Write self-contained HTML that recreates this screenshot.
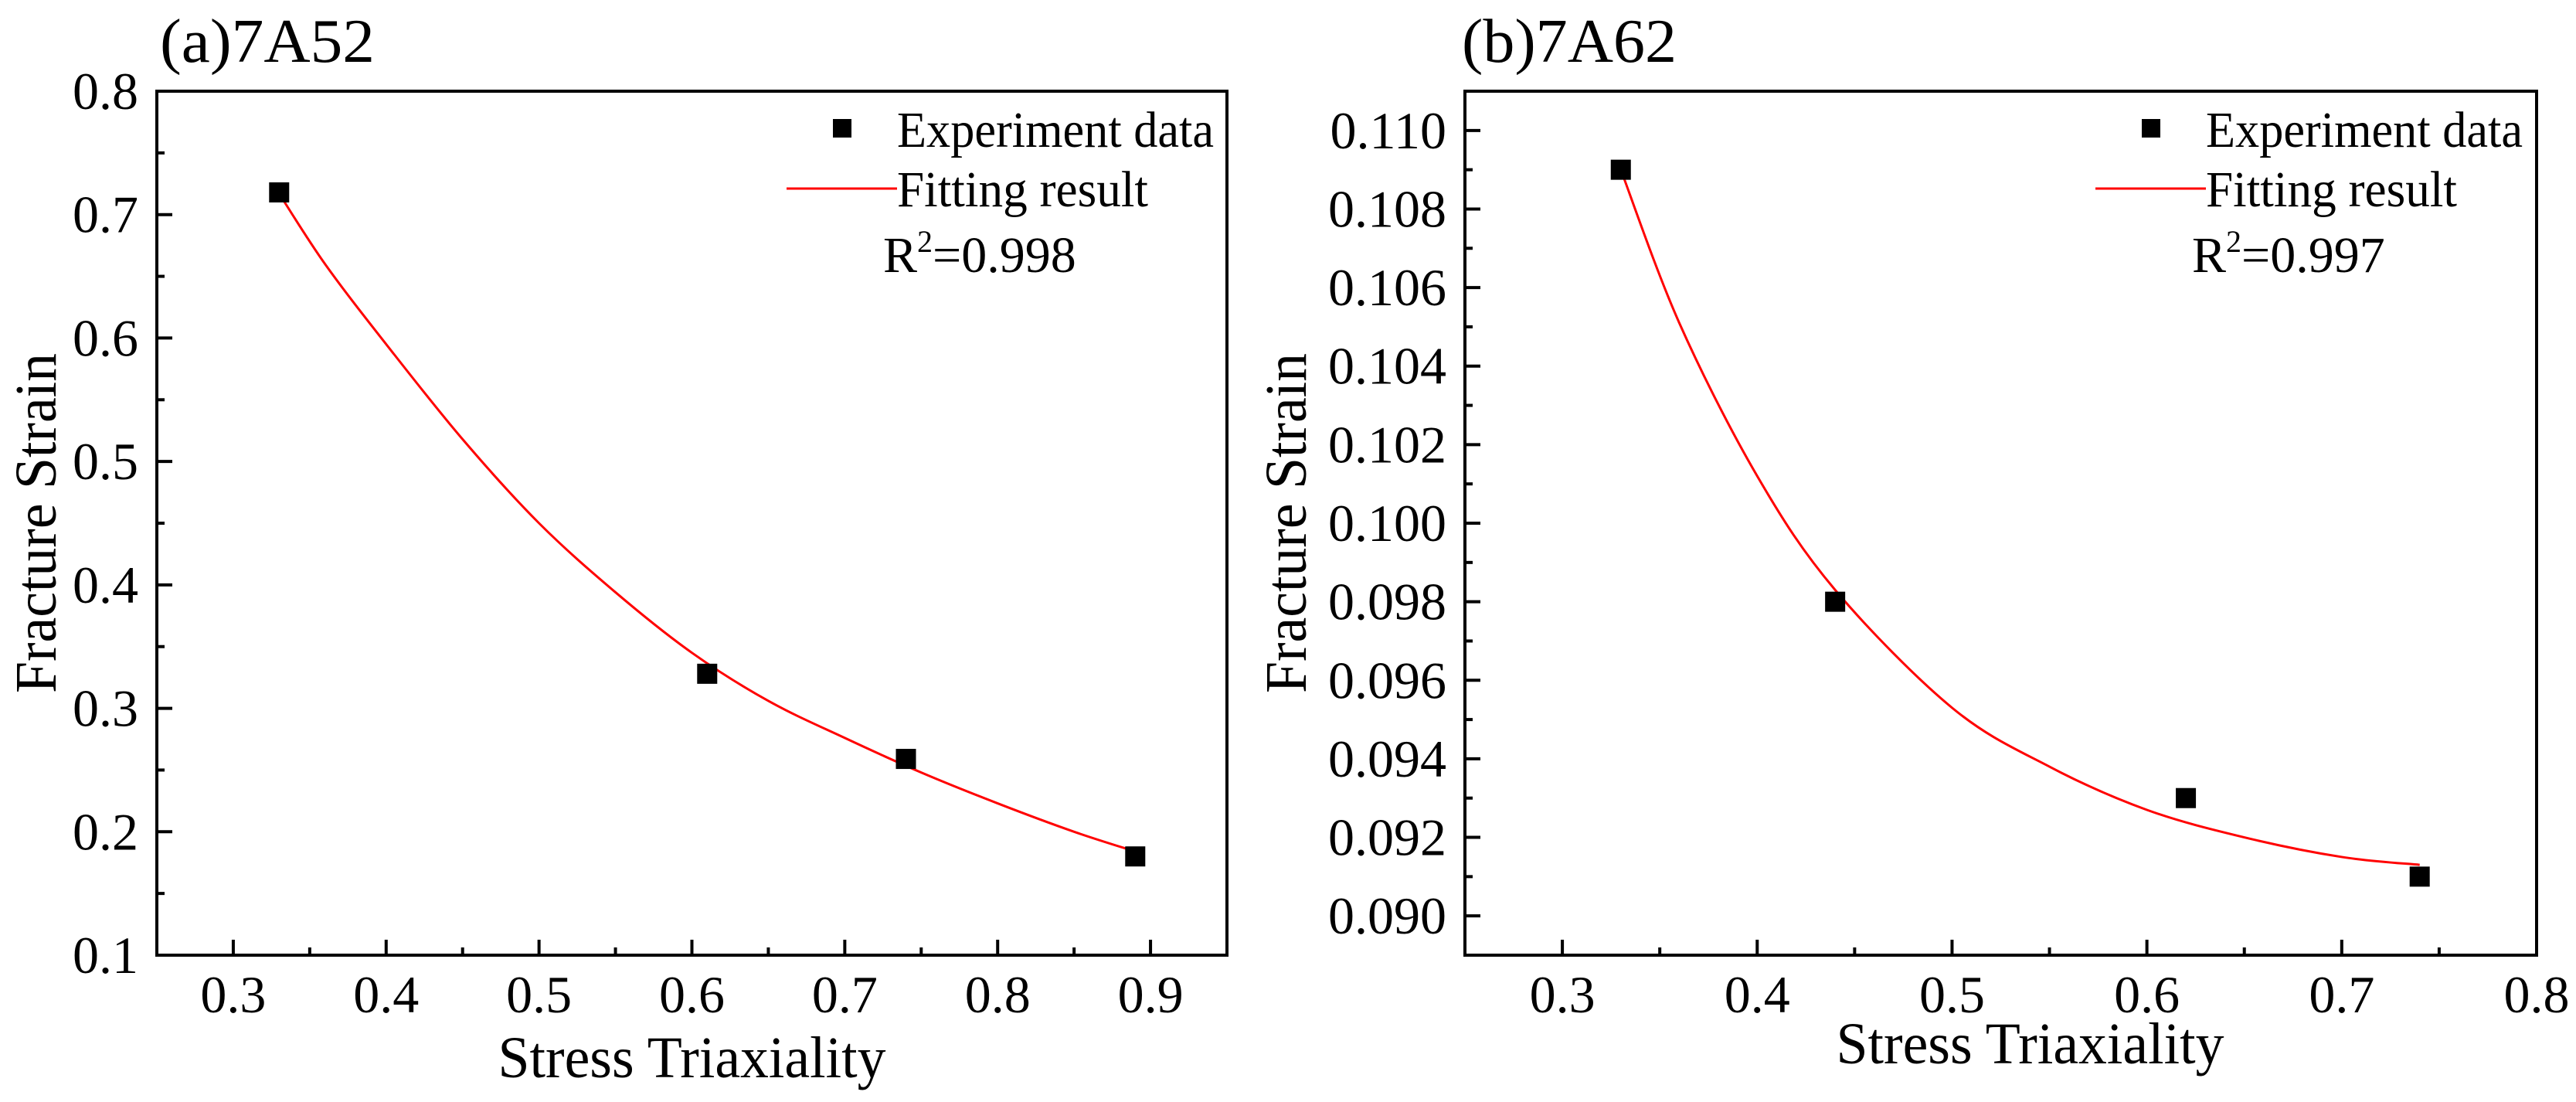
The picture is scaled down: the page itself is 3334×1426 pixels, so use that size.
<!DOCTYPE html>
<html><head><meta charset="utf-8"><style>
html,body{margin:0;padding:0;background:#fff;}
svg{display:block;}
text{font-family:"Liberation Serif","DejaVu Serif",serif;}
</style></head><body>
<svg id="fig" width="3334" height="1426" viewBox="0 0 3334 1426" xmlns="http://www.w3.org/2000/svg" font-family="Liberation Serif, DejaVu Serif, serif"></svg>
<script>
// ---- Panel (a) 7A52 data ----
const aPointsX = [0.33, 0.61, 0.74, 0.89];
const aPointsY = [0.718, 0.328, 0.259, 0.180];
const aFitX = [0.33, 0.36, 0.40, 0.45, 0.50, 0.55, 0.60, 0.65, 0.70, 0.75, 0.80, 0.85, 0.89];
const aFitY = [0.717, 0.660, 0.595, 0.518, 0.450, 0.394, 0.345, 0.306, 0.276, 0.248, 0.223, 0.200, 0.184];
const aXTicks = ["0.3","0.4","0.5","0.6","0.7","0.8","0.9"];
const aYTicks = ["0.1","0.2","0.3","0.4","0.5","0.6","0.7","0.8"];
// ---- Panel (b) 7A62 data ----
const bPointsX = [0.33, 0.44, 0.62, 0.74];
const bPointsY = [0.109, 0.098, 0.093, 0.091];
const bFitX = [0.33, 0.36, 0.40, 0.44, 0.50, 0.55, 0.60, 0.65, 0.70, 0.74];
const bFitY = [0.1090, 0.1051, 0.1012, 0.0983, 0.0953, 0.0938, 0.0927, 0.0920, 0.0915, 0.0913];
const bXTicks = ["0.3","0.4","0.5","0.6","0.7","0.8"];
const bYTicks = ["0.090","0.092","0.094","0.096","0.098","0.100","0.102","0.104","0.106","0.108","0.110"];

const NS = "http://www.w3.org/2000/svg";
const svg = document.getElementById("fig");
function mk(tag, attrs, parent){
  const e = document.createElementNS(NS, tag);
  for (const k in attrs) e.setAttribute(k, attrs[k]);
  (parent||svg).appendChild(e);
  return e;
}

function panel(cfg){
  const g = mk("g", {});
  
  
  const {L,R,T,B,x0,x1,y0,y1} = cfg;
  const sx = v => L + (v - x0) / (x1 - x0) * (R - L);
  const sy = v => B - (v - y0) / (y1 - y0) * (B - T);

  const fr = mk("rect", {x:L, y:T, width:R-L, height:B-T, fill:"none", stroke:"#000", "stroke-width":4}, g);
  
  

  const xt = cfg.xTicks.map(Number);
  const xstep = xt[1] - xt[0];
  xt.forEach((v,i) => {
    const x = sx(v);
    const t = mk("line", {x1:x, x2:x, y1:B, y2:B-20, stroke:"#000", "stroke-width":4}, g);
    
    
    const lb = mk("text", {x:x, y:B+74, "font-size":68, "text-anchor":"middle"}, g);
    lb.textContent = cfg.xTicks[i];
    
    
    const m = v + xstep/2;
    if (m < x1) {
      const mt = mk("line", {x1:sx(m), x2:sx(m), y1:B, y2:B-10, stroke:"#000", "stroke-width":4}, g);
      
      
    }
  });
  const yt = cfg.yTicks.map(Number);
  const ystep = yt[1] - yt[0];
  yt.forEach((v,i) => {
    const y = sy(v);
    const t = mk("line", {x1:L, x2:L+20, y1:y, y2:y, stroke:"#000", "stroke-width":4}, g);
    
    
    const lb = mk("text", {x:L-24, y:y+23, "font-size":68, "text-anchor":"end"}, g);
    lb.textContent = cfg.yTicks[i];
    
    
    const m = v + ystep/2;
    if (m < y1) {
      const mt = mk("line", {x1:L, x2:L+10, y1:sy(m), y2:sy(m), stroke:"#000", "stroke-width":4}, g);
      
      
    }
  });

  const P = cfg.fitX.map((v,i) => [sx(v), sy(cfg.fitY[i])]);
  let d = "M" + P[0][0] + "," + P[0][1];
  for (let i = 0; i < P.length - 1; i++) {
    const p0 = P[Math.max(0,i-1)], p1 = P[i], p2 = P[i+1], p3 = P[Math.min(P.length-1,i+2)];
    const c1 = [p1[0] + (p2[0]-p0[0])/6, p1[1] + (p2[1]-p0[1])/6];
    const c2 = [p2[0] - (p3[0]-p1[0])/6, p2[1] - (p3[1]-p1[1])/6];
    d += " C" + c1[0] + "," + c1[1] + " " + c2[0] + "," + c2[1] + " " + p2[0] + "," + p2[1];
  }
  const cv = mk("path", {d:d, fill:"none", stroke:"#ff0000", "stroke-width":3}, g);
  
  

  cfg.px.forEach((v,i) => {
    const s = 26;
    const r = mk("rect", {x:sx(v)-s/2, y:sy(cfg.py[i])-s/2, width:s, height:s, fill:"#000"}, g);
    
    
  });

  const fit = {textLength:0, lengthAdjust:"spacingAndGlyphs"};
  const tt = mk("text", {x:cfg.titleX, y:80, "font-size":80, textLength:278, lengthAdjust:"spacingAndGlyphs"}, g);
  tt.textContent = cfg.title;
  
  
  const xl = mk("text", {x:(L+R)/2 + cfg.xTitleDx, y:cfg.xTitleY, "font-size":76, "text-anchor":"middle", textLength:502, lengthAdjust:"spacingAndGlyphs"}, g);
  xl.textContent = "Stress Triaxiality";
  
  
  const yl = mk("text", {x:0, y:0, "font-size":76, "text-anchor":"middle", textLength:440, lengthAdjust:"spacingAndGlyphs", transform:"translate(" + cfg.yTitleX + "," + ((T+B)/2) + ") rotate(-90)"}, g);
  yl.textContent = "Fracture Strain";
  
  

  const lx = cfg.legX;
  const lm = mk("rect", {x:lx-71-12, y:154, width:24, height:24, fill:"#000"}, g);
  
  
  const lt1 = mk("text", {x:lx, y:190, "font-size":66, textLength:410, lengthAdjust:"spacingAndGlyphs"}, g);
  lt1.textContent = "Experiment data";
  
  
  const ll = mk("line", {x1:lx-143, x2:lx, y1:244, y2:244, stroke:"#ff0000", "stroke-width":3}, g);
  
  
  const lt2 = mk("text", {x:lx, y:267, "font-size":66, textLength:325, lengthAdjust:"spacingAndGlyphs"}, g);
  lt2.textContent = "Fitting result";
  
  
  const r2 = mk("text", {x:lx-18, y:352, "font-size":66}, g);
  
  
  const t1 = mk("tspan", {}, r2); t1.textContent = "R";
  const t2 = mk("tspan", {"font-size":40, dy:-26}, r2); t2.textContent = "2";
  const t3 = mk("tspan", {dy:26}, r2); t3.textContent = "=" + cfg.r2;
}

panel({name:"panel-a-7a52", L:203, R:1588, T:118, B:1236, x0:0.25, x1:0.95, y0:0.1, y1:0.8,
  xTicks:aXTicks, yTicks:aYTicks, px:aPointsX, py:aPointsY, fitX:aFitX, fitY:aFitY,
  title:"(a)7A52", titleX:207, xTitleY:1394, xTitleDx:0, yTitleX:72, legX:1161, r2:"0.998"});
panel({name:"panel-b-7a62", L:1896, R:3283, T:118, B:1236, x0:0.25, x1:0.8, y0:0.089, y1:0.111,
  xTicks:bXTicks, yTicks:bYTicks, px:bPointsX, py:bPointsY, fitX:bFitX, fitY:bFitY,
  title:"(b)7A62", titleX:1892, xTitleY:1376, xTitleDx:38, yTitleX:1690, legX:2855, r2:"0.997"});
</script>
</body></html>
